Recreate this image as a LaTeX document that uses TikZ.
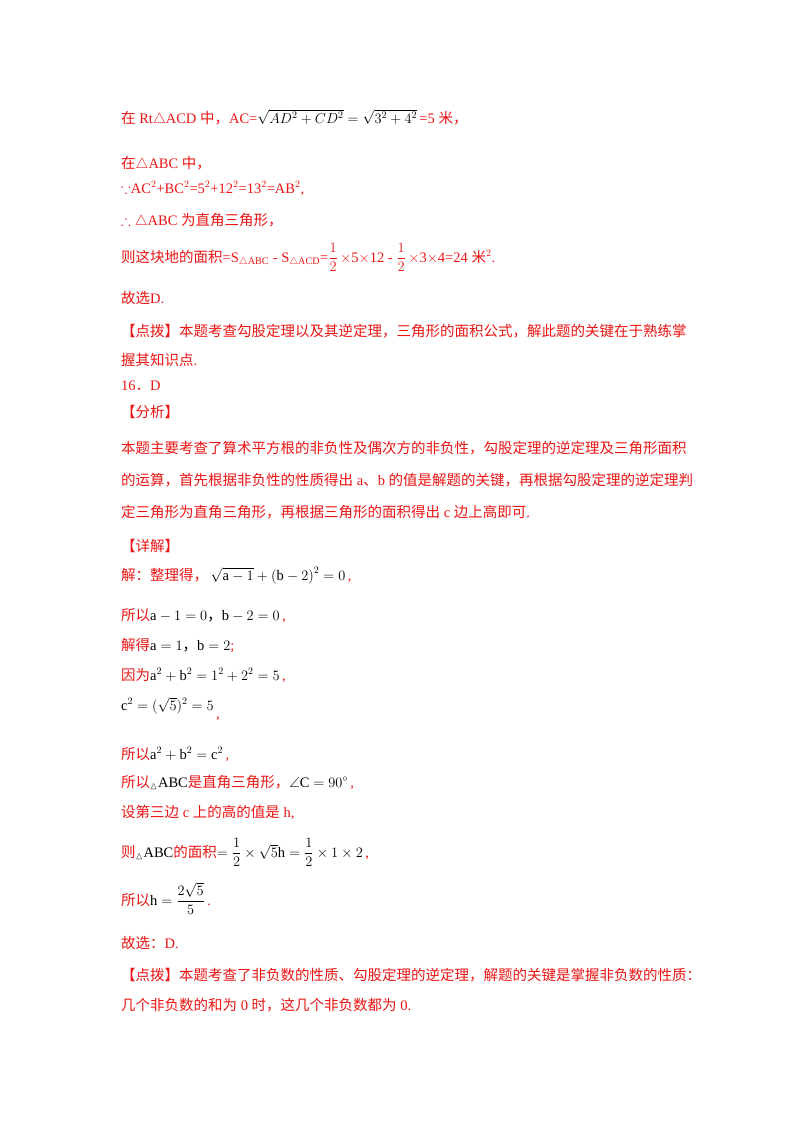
\documentclass[tikz,border=0pt]{standalone}
\usepackage{amsmath,amssymb}
\usepackage{fontspec}
\setmainfont{Liberation Serif}
\newfontfamily\cjk{Noto Sans CJK SC}
\newcommand{\zh}[1]{{\cjk #1}}
\newcommand{\bk}[1]{\textcolor{black}{#1}}
\definecolor{rd}{RGB}{235,20,20}
\begin{document}
\begin{tikzpicture}[x=1pt,y=1pt,
  t/.style={anchor=base west,inner sep=0,text=rd,font=\fontsize{14.5}{16}\selectfont}]
\useasboundingbox (0,0) rectangle (800,-1132);
\node[t] (l1) at (121,-123) {\zh{在} Rt$\triangle$ACD \zh{中，}AC=\bk{$\sqrt{AD^2+CD^2}=\sqrt{3^2+4^2}$}\,=5 \zh{米，}};
\node[t] (l2) at (121,-168) {\zh{在}$\triangle$ABC \zh{中，}};
\node[t] (l3) at (121,-193) {$\because$AC$^2$+BC$^2$=5$^2$+12$^2$=13$^2$=AB$^2$,};
\node[t] (l4) at (121,-225) {$\therefore\triangle$ABC \zh{为直角三角形，}};
\node[t] (l5) at (121,-262) {\zh{则这块地的面积}=S$_{\triangle\mathrm{ABC}}$ - S$_{\triangle\mathrm{ACD}}$=$\dfrac{1}{2}$\,$\times$5$\times$12 - $\dfrac{1}{2}$\,$\times$3$\times$4=24 \zh{米}$^2$.};
\node[t] (l6) at (121,-303) {\zh{故选}D.};
\node[t] (l7) at (121,-336) {\zh{【点拨】本题考查勾股定理以及其逆定理，三角形的面积公式，解此题的关键在于熟练掌}};
\node[t] (l8) at (121,-365) {\zh{握其知识点}.};
\node[t] (l9) at (121,-390) {16\zh{．}D};
\node[t] (l10) at (121,-417) {\zh{【分析】}};
\node[t] (l11) at (121,-453) {\zh{本题主要考查了算术平方根的非负性及偶次方的非负性，勾股定理的逆定理及三角形面积}};
\node[t] (l12) at (121,-485) {\zh{的运算，首先根据非负性的性质得出} a\zh{、}b \zh{的值是解题的关键，再根据勾股定理的逆定理判}};
\node[t] (l13) at (121,-517) {\zh{定三角形为直角三角形，再根据三角形的面积得出} c \zh{边上高即可}.};
\node[t] (l14) at (121,-551) {\zh{【详解】}};
\node[t] (l15) at (121,-580) {\zh{解：整理得，}\,\bk{$\sqrt{\mathrm{a}-1}+\left(\mathrm{b}-2\right)^2=0$}\,,};
\node[t] (l16) at (121,-620) {\zh{所以}\bk{$\mathrm{a}-1=0$\zh{，}$\mathrm{b}-2=0$}\,,};
\node[t] (l17) at (121,-650) {\zh{解得}\bk{$\mathrm{a}=1$\zh{，}$\mathrm{b}=2$};};
\node[t] (l18) at (121,-680) {\zh{因为}\bk{$\mathrm{a}^2+\mathrm{b}^2=1^2+2^2=5$}\,,};
\node[t] (l19) at (121,-710) {\bk{$\mathrm{c}^2=(\sqrt{5})^2=5$}\,\raisebox{-8pt}{,}};
\node[t] (l20) at (121,-759) {\zh{所以}\bk{$\mathrm{a}^2+\mathrm{b}^2=\mathrm{c}^2$}\,,};
\node[t] (l21) at (121,-787) {\zh{所以}\bk{$_\vartriangle$ABC}\zh{是直角三角形，}\bk{$\angle\mathrm{C}=90^\circ$}\,,};
\node[t] (l22) at (121,-817) {\zh{设第三边} c \zh{上的高的值是} h,};
\node[t] (l23) at (121,-857) {\zh{则}\bk{$_\vartriangle$ABC}\zh{的面积}\bk{$=\dfrac{1}{2}\times\sqrt{5}\mathrm{h}=\dfrac{1}{2}\times1\times2$}\,,};
\node[t] (l24) at (121,-905) {\zh{所以}\bk{$\mathrm{h}=\dfrac{2\sqrt{5}}{5}$}\,.};
\node[t] (l25) at (121,-948) {\zh{故选：}D.};
\node[t] (l26) at (121,-980) {\zh{【点拨】本题考查了非负数的性质、勾股定理的逆定理，解题的关键是掌握非负数的性质：}};
\node[t] (l27) at (121,-1010) {\zh{几个非负数的和为} 0 \zh{时，这几个非负数都为} 0.};
\end{tikzpicture}
\end{document}
